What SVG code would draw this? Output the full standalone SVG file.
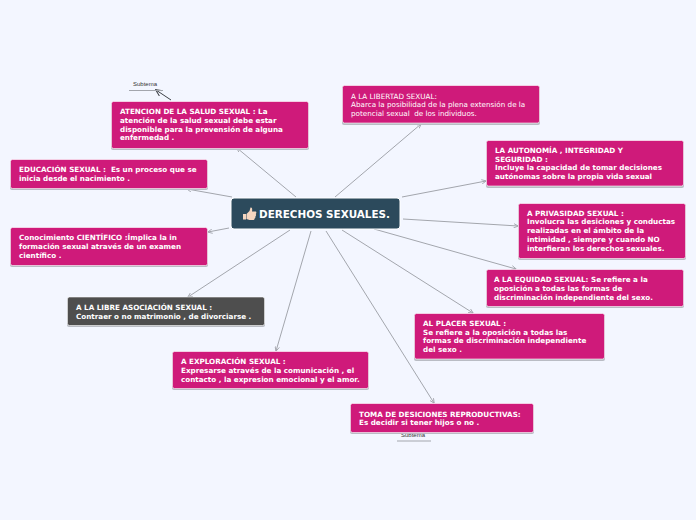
<svg xmlns="http://www.w3.org/2000/svg" width="696" height="520" viewBox="0 0 696 520">
<defs>
<marker id="a" viewBox="0 0 8 8" refX="7" refY="4" markerWidth="5" markerHeight="5" orient="auto" markerUnits="userSpaceOnUse"><path d="M0 0.5L7.500 4L0 7.500" fill="none" stroke="#a3a6ad" stroke-width="1.400"/></marker>
<marker id="b" viewBox="0 0 8 8" refX="7" refY="4" markerWidth="7" markerHeight="7" orient="auto" markerUnits="userSpaceOnUse"><path d="M0 0.5L7.500 4L0 7.500" fill="none" stroke="#3c4046" stroke-width="1.200"/></marker>
</defs>
<style>
text{font-family:"DejaVu Sans","Liberation Sans",sans-serif;font-size:7.2px;font-weight:bold;fill:#fff;white-space:pre}
.n{fill:#cf1a7a;stroke:#fff;stroke-width:.6}
.s{fill:#b9bcc4}
.c line{stroke:#a3a6ad;stroke-width:1;marker-end:url(#a)}
.r{font-weight:normal}
.t{font-size:6px;font-weight:normal;fill:#333;font-family:"Liberation Sans",sans-serif}
.u{stroke:#a3a6ad;stroke-width:1}
</style>
<rect width="696" height="520" fill="#f3f6ff"/>
<g id="connectors" class="c">
<line x1="296" y1="197" x2="237" y2="148"/>
<line x1="232" y1="197" x2="187" y2="189"/>
<line x1="229" y1="228" x2="208" y2="232"/>
<line x1="290" y1="230" x2="188" y2="297"/>
<line x1="311" y1="231" x2="276" y2="351"/>
<line x1="326" y1="231" x2="434" y2="403"/>
<line x1="342" y1="230" x2="473" y2="313"/>
<line x1="374" y1="229" x2="516" y2="269"/>
<line x1="403" y1="219" x2="518" y2="226"/>
<line x1="402" y1="197" x2="486" y2="181"/>
<line x1="335" y1="197" x2="421" y2="124"/>
<line x1="171" y1="100" x2="156" y2="90" style="stroke:#3c4046;marker-end:url(#b)"/>
</g>
<g id="sub1"><text class="t" x="133" y="86">Subtema</text><line class="u" x1="129" y1="90.500" x2="163" y2="90.500"/></g>
<g id="sub2"><text class="t" x="401" y="437">Subtema</text><line class="u" x1="397" y1="441" x2="431" y2="441"/></g>
<g id="n1"><rect class="s" x="111" y="103" width="198" height="47" rx="2"/><rect class="n" x="111.500" y="101.500" width="197" height="47" rx="2"/>
<text x="120" y="114">ATENCION DE LA SALUD SEXUAL : La</text><text x="120" y="123">atención de la salud sexual debe estar</text><text x="120" y="132">disponible para la prevensión de alguna</text><text x="120" y="140">enfermedad .</text></g>
<g id="n2"><rect class="s" x="10" y="161" width="198" height="29" rx="2"/><rect class="n" x="10.500" y="159.500" width="197" height="29" rx="2"/>
<text x="19" y="172">EDUCACIÓN SEXUAL :  Es un proceso que se</text><text x="19" y="181">inicia desde el nacimiento .</text></g>
<g id="n3"><rect class="s" x="10" y="229" width="198" height="38" rx="2"/><rect class="n" x="10.500" y="227.500" width="197" height="38" rx="2"/>
<text x="19" y="240">Conocimiento CIENTÍFICO :Ímplica la in</text><text x="19" y="249">formación sexual através de un examen</text><text x="19" y="258">científico .</text></g>
<g id="n4"><rect class="s" x="67" y="298" width="198" height="29" rx="2"/><rect x="67.500" y="297" width="197" height="28.500" rx="2" fill="#4e4e4e" stroke="#fff" stroke-width=".6"/>
<text x="76" y="310">A LA LIBRE ASOCIACIÓN SEXUAL :</text><text x="76" y="319">Contraer o no matrimonio , de divorciarse .</text></g>
<g id="n5"><rect class="s" x="172" y="352" width="197" height="38" rx="2"/><rect class="n" x="172.500" y="351.500" width="196" height="37" rx="2"/>
<text x="181" y="364">A EXPLORACIÓN SEXUAL :</text><text x="181" y="373">Expresarse através de la comunicación , el</text><text x="181" y="382">contacto , la expresion emocional y el amor.</text></g>
<g id="n6"><rect class="s" x="350" y="405" width="184" height="29" rx="2"/><rect class="n" x="350.500" y="403.500" width="183" height="29" rx="2"/>
<text x="359" y="417">TOMA DE DESICIONES REPRODUCTIVAS:</text><text x="359" y="425">Es decidir si tener hijos o no .</text></g>
<g id="n7"><rect class="s" x="414" y="314" width="191" height="47" rx="2"/><rect class="n" x="414.500" y="313.500" width="190" height="45.500" rx="2"/>
<text x="423" y="326">AL PLACER SEXUAL :</text><text x="423" y="335">Se refiere a la oposición a todas las</text><text x="423" y="343">formas de discriminación independiente</text><text x="423" y="352">del sexo .</text></g>
<g id="n8"><rect class="s" x="486" y="270" width="198" height="38" rx="2"/><rect class="n" x="486.500" y="269.500" width="197" height="37" rx="2"/>
<text x="494" y="282">A LA EQUIDAD SEXUAL: Se refiere a la</text><text x="494" y="291">oposición a todas las formas de</text><text x="494" y="300">discriminación independiente del sexo.</text></g>
<g id="n9"><rect class="s" x="518" y="204" width="168" height="56" rx="2"/><rect class="n" x="518.500" y="203.500" width="167" height="55" rx="2"/>
<text x="527" y="216">A PRIVASIDAD SEXUAL :</text><text x="527" y="224">Involucra las desiciones y conductas</text><text x="527" y="233">realizadas en el ámbito de la</text><text x="527" y="242">intimidad , siempre y cuando NO</text><text x="527" y="251">interfieran los derechos sexuales.</text></g>
<g id="n10"><rect class="s" x="486" y="141" width="198" height="47" rx="2"/><rect class="n" x="486.500" y="140.500" width="197" height="45.500" rx="2"/>
<text x="495" y="153">LA AUTONOMÍA , INTEGRIDAD Y</text><text x="495" y="162">SEGURIDAD :</text><text x="495" y="170">Incluye la capacidad de tomar decisiones</text><text x="495" y="179">autónomas sobre la propia vida sexual</text></g>
<g id="n11"><rect class="s" x="342" y="86" width="198" height="39" rx="2"/><rect class="n" x="342.500" y="85.500" width="197" height="37.500" rx="2"/>
<text class="r" x="351" y="99">A LA LIBERTAD SEXUAL:</text><text class="r" x="351" y="107">Abarca la posibilidad de la plena extensión de la</text><text class="r" x="351" y="116">potencial sexual  de los individuos.</text></g>
<g id="center"><rect x="231" y="198" width="169" height="31" rx="3" fill="#2c4a5c" stroke="#fff" stroke-width="1"/>
<path d="M243 214h3v5.500h-3zM246.500 214l3-3 1-3.500c1.500-.5 2 1 1.500 4h3.500c1.200 0 1 2 .3 2.500.5 1 .3 2-.4 2.500.2 1-.2 1.800-.8 2-.1 1-.7 1.500-1.600 1.500h-3.500l-3-1z" fill="#f5d5bf"/>
<text x="259" y="218" style="font-size:10.400px">DERECHOS SEXUALES.</text></g>
</svg>
